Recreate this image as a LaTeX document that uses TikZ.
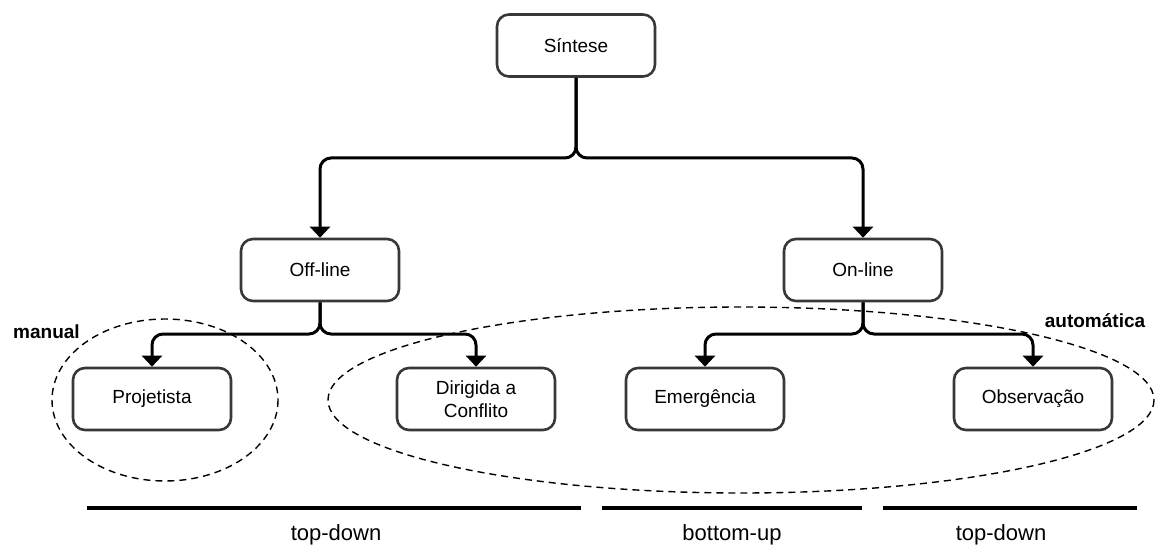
\documentclass[tikz,border=0pt]{standalone}
\usepackage{fontspec}
\setmainfont{Liberation Sans}
\usetikzlibrary{arrows.meta}
\begin{document}
\begin{tikzpicture}[x=1pt,y=-1pt,
  box/.style={draw=black!78, line width=2.6pt, rounded corners=12pt, fill=white,
    minimum width=158pt, minimum height=62pt, align=center,
    font=\fontsize{19}{23}\selectfont},
  conn/.style={draw=black, line width=3pt, rounded corners=11pt,
    -{Triangle[width=20pt,length=11pt]}},
  split/.style={draw=black, line width=3pt, rounded corners=11pt},
  region/.style={draw=black, line width=1.4pt, dash pattern=on 7pt off 5pt},
  tag/.style={font=\bfseries\fontsize{19}{23}\selectfont},
  band/.style={draw=black, line width=4pt},
  bandlabel/.style={font=\fontsize{22}{26}\selectfont}]
  \useasboundingbox[fill=white] (0,0) rectangle (1156,545);

  % dashed groupings
  \draw[region] (165,400) ellipse [x radius=113, y radius=81];
  \draw[region] (741,400) ellipse [x radius=413, y radius=93];
  \node[tag] (manual) at (46.5,332) {manual};
  \node[tag] (auto) at (1095,321) {automática};

  % boxes
  \node[box] (sint) at (576,45.5) {Síntese};
  \node[box] (off)  at (320,270) {Off-line};
  \node[box] (on)   at (863,270) {On-line};
  \node[box] (proj) at (152,399) {Projetista};
  \node[box] (dir)  at (476,399) {Dirigida a\\Conflito};
  \node[box] (emer) at (705,399) {Emergência};
  \node[box] (obs)  at (1033,399) {Observação};

  % branch points
  \coordinate (j0) at (576,158);
  \coordinate (j1) at (320,334);
  \coordinate (j2) at (863,334);

  % connectors
  \draw[conn] (sint.south) -- (j0) -| (off.north);
  \draw[conn] (sint.south) -- (j0) -| (on.north);
  \draw[conn] (off.south) -- (j1) -| (proj.north);
  \draw[conn] (off.south) -- (j1) -| (dir.north);
  \draw[conn] (on.south) -- (j2) -| (emer.north);
  \draw[conn] (on.south) -- (j2) -| (obs.north);

  % strategy bands
  \coordinate (a1) at (87,508);  \coordinate (a2) at (581,508);
  \coordinate (b1) at (602,508); \coordinate (b2) at (862,508);
  \coordinate (c1) at (883,508); \coordinate (c2) at (1137,508);
  \draw[band] (a1) -- (a2);
  \draw[band] (b1) -- (b2);
  \draw[band] (c1) -- (c2);
  \node[bandlabel] (l1) at (336,535) {top-down};
  \node[bandlabel] (l2) at (732,535) {bottom-up};
  \node[bandlabel] (l3) at (1001,535) {top-down};
\end{tikzpicture}
\end{document}
